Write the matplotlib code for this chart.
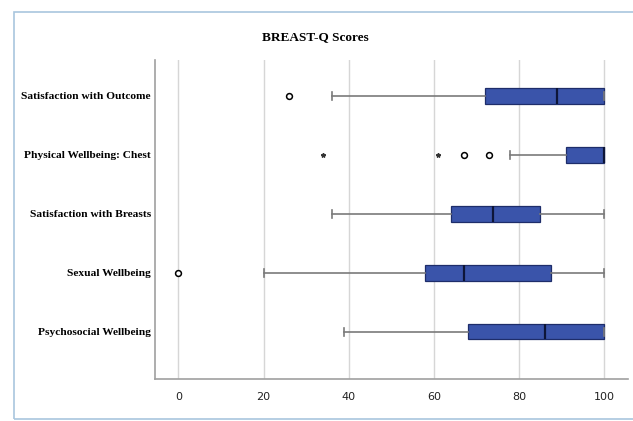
import matplotlib.pyplot as plt
from matplotlib.patches import Rectangle

# BREAST-Q domains, top to bottom
domains = ['Satisfaction with Outcome', 'Physical Wellbeing: Chest',
           'Satisfaction with Breasts', 'Sexual Wellbeing',
           'Psychosocial Wellbeing']

# five-number summaries per domain
whisker_low = [36, 78, 36, 20, 39]
q1 = [72, 91, 64, 58, 68]
median = [89, 100, 74, 67, 86]
q3 = [100, 100, 85, 87.5, 100]
whisker_high = [100, 100, 100, 100, 100]

# outliers (circles) and extreme values (stars)
outliers = [[26], [67, 73], [], [0], []]
extremes = [[], [34, 61], [], [], []]

x_ticks = [0, 20, 40, 60, 80, 100]

plt.rcParams['font.family'] = 'Liberation Serif'

fig = plt.figure(figsize=(6.33, 4.21), dpi=100)
fig.patch.set_facecolor('white')
fig.patches.append(Rectangle((14 / 633, 2 / 421), 1.0, 407 / 421,
                             transform=fig.transFigure, fill=False,
                             edgecolor='#a9c6de', linewidth=1.2))

ax = fig.add_axes([155 / 633, 42 / 421, 473 / 633, 319 / 421])

stats = []
for i, name in enumerate(domains):
    stats.append(dict(label=name, whislo=whisker_low[i], q1=q1[i],
                      med=median[i], q3=q3[i], whishi=whisker_high[i],
                      fliers=[]))

pos = list(range(len(domains)))
ax.bxp(stats, positions=pos, vert=False, widths=0.26, patch_artist=True,
       showfliers=False,
       boxprops=dict(facecolor='#3a54aa', edgecolor='#1e2d6a', linewidth=0.9),
       medianprops=dict(color='#0d1538', linewidth=1.6),
       whiskerprops=dict(color='#7a7a7a', linewidth=1.2),
       capprops=dict(color='#7a7a7a', linewidth=1.2), capwidths=0.13)

for i in pos:
    if outliers[i]:
        ax.plot(outliers[i], [i] * len(outliers[i]), 'o', ms=4.2,
                mfc='white', mec='black', mew=1.1)
    if extremes[i]:
        ax.plot(extremes[i], [i] * len(extremes[i]), '*', ms=3.2,
                color='#333333')

ax.set_xlim(-5.5, 105.6)
ax.set_ylim(4.8, -0.61)
ax.set_xticks(x_ticks)
ax.set_xticklabels([str(t) for t in x_ticks],
                   fontdict=dict(family='Liberation Sans Narrow', size=8,
                                 color='#222222'))
ax.set_yticks(pos)
ax.set_yticklabels(domains, fontsize=8.2, fontweight='bold')
ax.tick_params(length=0, pad=3)
ax.tick_params(axis='x', pad=9)
ax.grid(axis='x', color='#d6d6d6', linewidth=1.0)
ax.set_axisbelow(True)
for s in ['top', 'right']:
    ax.spines[s].set_visible(False)
for s in ['left', 'bottom']:
    ax.spines[s].set_color('#a0a0a0')
    ax.spines[s].set_linewidth(1.2)

fig.text(0.498, 0.912, 'BREAST-Q Scores', ha='center', va='center',
         fontsize=9.5, fontweight='bold')

fig.savefig('out.png', dpi=100)
